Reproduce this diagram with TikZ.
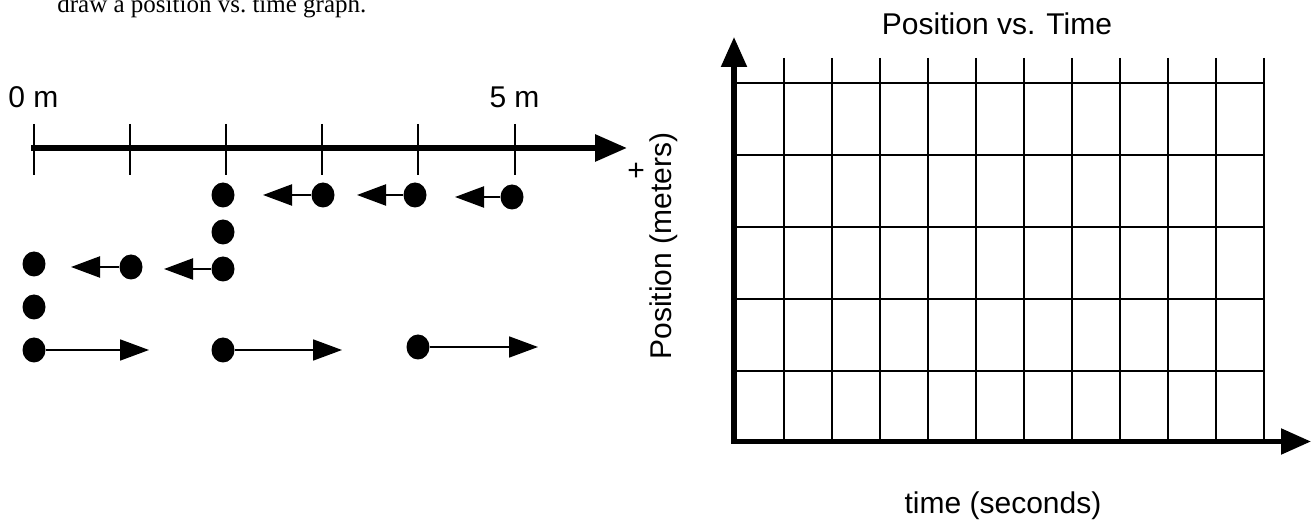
\documentclass[tikz,border=0pt]{standalone}
\usepackage{fontspec}
\setmainfont{Liberation Serif}
\newfontfamily\arialfont{Liberation Sans}
\usepackage{xcolor}
\definecolor{Black}{RGB}{0,0,0}
\definecolor{White}{RGB}{255,255,255}
\usetikzlibrary{arrows.meta, shapes.geometric}

\begin{document}
\begin{tikzpicture}[x=0.5pt, y=-0.5pt,
		dot/.style={ellipse, fill=Black, inner sep=0pt, minimum width=11.5pt, minimum height=12.5pt},
		lab/.style={font=\arialfont\fontsize{15}{18}\selectfont, color=Black, inner sep=0pt},
		move/.style={-{Triangle[length=14.5pt, width=10.5pt]}, line width=1.1pt},
		grid/.style={line width=1.3pt, color=Black},
		axis/.style={line width=2.6pt, -{Triangle[length=15pt, width=12.5pt]}}]
		
		% Frame
		\fill[White] (0,0) rectangle (1315,522);
		\clip (0,0) rectangle (1315,522);
		
		% Text
		\node[anchor=base west, font=\fontsize{12.5}{14}\selectfont, inner sep=0pt] (intro) at (57,13) {draw a position vs.\ time graph.};
		
		% Number line
		\coordinate (lineStart) at (31,148);
		\coordinate (lineEnd) at (627,148);
		\draw[line width=3pt, -{Triangle[length=16pt, width=13pt]}] (lineStart) -- (lineEnd);
		\foreach \i in {0,...,5}
			\draw[line width=1pt] ({33.5+96.2*\i},124) -- ({33.5+96.2*\i},175);
		
		\node[lab, anchor=base] (zero) at (33.5,108) {0 m};
		\node[lab, anchor=base] (five) at (514.5,108) {5 m};
		\node[lab] (plus) at (636,172) {+};
		
		% Dots
		\node[dot] (a1) at (512,197) {};
		\node[dot] (a2) at (415,195) {};
		\node[dot] (a3) at (323,195) {};
		\node[dot] (a4) at (223,195) {};
		\node[dot] (a5) at (223,232) {};
		\node[dot] (a6) at (223,269) {};
		\node[dot] (a7) at (131,267) {};
		\node[dot] (a8) at (34,264) {};
		\node[dot] (a9) at (34,307) {};
		\node[dot] (a10) at (34,350) {};
		\node[dot] (a11) at (223,350) {};
		\node[dot] (a12) at (418,347) {};
		
		% Lines
		\coordinate (t1) at (455,197);
		\coordinate (t2) at (357,195);
		\coordinate (t3) at (263,195);
		\coordinate (t6) at (164,269);
		\coordinate (t7) at (71,267);
		\coordinate (t10) at (149,350);
		\coordinate (t11) at (342,350);
		\coordinate (t12) at (538,347);
		\draw[move] (a1) -- (t1);
		\draw[move] (a2) -- (t2);
		\draw[move] (a3) -- (t3);
		\draw[move] (a6) -- (t6);
		\draw[move] (a7) -- (t7);
		\draw[move, line width=0.9pt] (a10) -- (t10);
		\draw[move, line width=0.9pt] (a11) -- (t11);
		\draw[move, line width=0.9pt] (a12) -- (t12);
		
		% Graph
		\foreach \j in {0,...,10}
			\draw[grid] ({784+48*\j},58) -- ({784+48*\j},441.5);
		\foreach \k in {0,...,4}
			\draw[grid] (734,{83+72*\k}) -- (1264,{83+72*\k});
		
		\coordinate (yStart) at (734,444);
		\coordinate (yTip) at (734,37);
		\coordinate (xStart) at (731.5,441.5);
		\coordinate (xTip) at (1311,441.5);
		\draw[axis] (yStart) -- (yTip);
		\draw[axis] (xStart) -- (xTip);
		
		\node[lab, anchor=base] (title) at (997,35) {Position vs. Time};
		\node[lab, anchor=base] (xlabel) at (1003,514) {time (seconds)};
		\node[lab, rotate=90] (ylabel) at (664,246) {Position (meters)};
		
	\end{tikzpicture}
\end{document}
